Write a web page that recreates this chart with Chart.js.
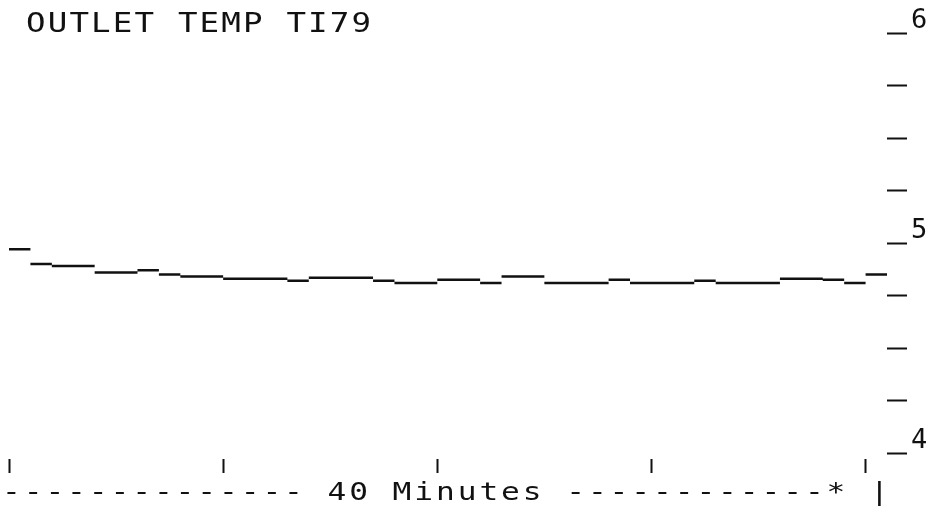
<!DOCTYPE html>
<html>
<head>
<meta charset="utf-8">
<script src="https://cdn.jsdelivr.net/npm/chart.js@4/dist/chart.umd.min.js"></script>
<style>
  html, body { margin: 0; padding: 0; background: #fff; }
  canvas { display: block; }
</style>
</head>
<body>
<canvas id="trend" width="934" height="510"></canvas>
<script>
// Trend record: outlet temperature TI79, one reading per minute over 40 minutes.
const chartTitle = 'OUTLET TEMP TI79';
const axisCaption = '-------------- 40 Minutes ------------* |';

const minutes = [0, 1, 2, 3, 4, 5, 6, 7, 8, 9, 10, 11, 12, 13, 14, 15, 16, 17, 18, 19, 20,
                 21, 22, 23, 24, 25, 26, 27, 28, 29, 30, 31, 32, 33, 34, 35, 36, 37, 38, 39, 40];
const outletTemp = [4.97, 4.90, 4.89, 4.89, 4.86, 4.86, 4.87, 4.85, 4.84, 4.84, 4.83,
                    4.83, 4.83, 4.82, 4.835, 4.835, 4.835, 4.82, 4.81, 4.81, 4.825,
                    4.825, 4.81, 4.84, 4.84, 4.81, 4.81, 4.81, 4.825, 4.81, 4.81,
                    4.81, 4.82, 4.81, 4.81, 4.81, 4.83, 4.83, 4.825, 4.81, 4.85];

const minuteTicks = [0, 10, 20, 30, 40];
const tempTicks = [4, 4.25, 4.5, 4.75, 5, 5.25, 5.5, 5.75, 6];
const tempLabelValues = [4, 5, 6];

const INK = '#111';
const PITCH = 21.7; // character pitch of the plotter lettering

// Each reading is held flat for its minute: one horizontal stroke per sample.
const holdSegments = [];
minutes.forEach((m, i) => {
  holdSegments.push({ x: m, y: outletTemp[i] });
  holdSegments.push({ x: m + 1, y: outletTemp[i] });
  holdSegments.push({ x: m + 1, y: null });
});

function drawSpaced(ctx, text, x, y, size, stretch) {
  ctx.save();
  ctx.font = size + 'px "DejaVu Sans Mono", monospace';
  ctx.fillStyle = INK;
  ctx.textAlign = 'left';
  ctx.textBaseline = 'alphabetic';
  ctx.translate(x, y);
  ctx.scale(stretch, 1);
  const adv = ctx.measureText('M').width;
  ctx.letterSpacing = (PITCH / stretch - adv) + 'px';
  ctx.fillText(text, 0, 0);
  ctx.restore();
}

const plotterLettering = {
  id: 'plotterLettering',
  afterDraw(chart) {
    const ctx = chart.ctx;
    drawSpaced(ctx, chartTitle, 26, 32, 26, 1.25);
    drawSpaced(ctx, axisCaption, 2, 500, 24, 1.3);
  }
};

new Chart(document.getElementById('trend'), {
  type: 'line',
  data: {
    datasets: [{
      data: holdSegments,
      borderColor: INK,
      borderWidth: 2.5,
      borderCapStyle: 'butt',
      pointRadius: 0,
      spanGaps: false,
      tension: 0
    }]
  },
  options: {
    responsive: false,
    animation: false,
    events: [],
    layout: { padding: { left: 9, top: 33, right: 0, bottom: 0 } },
    plugins: {
      legend: { display: false },
      title: { display: false },
      tooltip: { enabled: false }
    },
    scales: {
      x: {
        type: 'linear',
        min: 0,
        max: 41,
        afterBuildTicks: s => { s.ticks = minuteTicks.map(value => ({ value })); },
        afterFit: s => { s.height = 57; },
        ticks: { callback: () => '' },
        border: { display: false },
        grid: {
          drawOnChartArea: false,
          drawTicks: true,
          tickLength: 20,
          tickWidth: 2,
          tickColor: INK,
          tickBorderDash: [0, 6, 14, 100]
        }
      },
      y: {
        type: 'linear',
        position: 'right',
        min: 4,
        max: 6,
        afterBuildTicks: s => { s.ticks = tempTicks.map(value => ({ value })); },
        afterFit: s => { s.width = 47; },
        ticks: {
          callback: v => tempLabelValues.includes(v) ? String(v) : '',
          color: INK,
          font: { family: '"DejaVu Sans Mono", monospace', size: 27 },
          padding: 4,
          labelOffset: -12
        },
        border: { display: false },
        grid: {
          drawOnChartArea: false,
          drawTicks: true,
          tickLength: 20,
          tickWidth: 2,
          tickColor: INK
        }
      }
    }
  },
  plugins: [plotterLettering]
});
</script>
</body>
</html>
